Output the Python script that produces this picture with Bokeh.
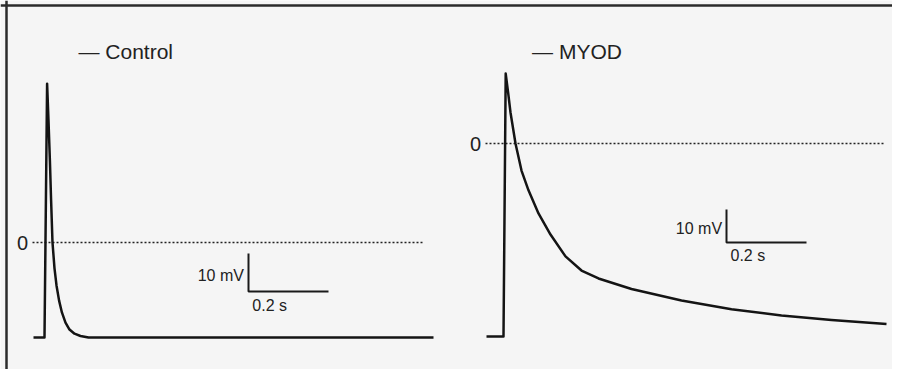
from bokeh.plotting import figure
from bokeh.models import Range1d, Span
from bokeh.core.properties import value
from bokeh.embed import file_html
from bokeh.resources import INLINE

# ---- data ----
panel_labels = ["Control", "MYOD"]

control_t = [0.0, 0.0275, 0.034, 0.0375, 0.041, 0.044, 0.0475, 0.0525, 0.0575,
             0.064, 0.071, 0.08, 0.09, 0.1025, 0.1175, 0.1375, 0.4, 0.7, 1.0]
control_v = [-25.0, -25.0, 41.8, 32.1, 21.6, 11.1, 0.0, -6.8, -11.3,
             -15.3, -18.4, -21.1, -22.9, -24.0, -24.6, -25.0, -25.0, -25.0, -25.0]

myod_t = [0.0, 0.0425, 0.048, 0.054, 0.06, 0.0725, 0.0875, 0.105, 0.13, 0.16,
          0.1975, 0.2375, 0.28, 0.3625, 0.4875, 0.6125, 0.7375, 0.8625, 1.0]
myod_v = [-58.5, -58.5, 21.2, 15.5, 9.4, 0.0, -8.2, -14.2, -21.2, -27.6,
          -34.2, -38.5, -40.9, -44.1, -47.6, -50.2, -52.1, -53.5, -54.7]

zero_mv = 0
scale_mv = 10      # vertical scale bar, mV
scale_s = 0.2      # horizontal scale bar, s

# ---- layout ----
W, H = 892, 369
BG = "#f5f5f5"
INK = "#141414"
FONT = value("Liberation Sans")

p = figure(width=W, height=H, output_backend="svg", toolbar_location=None,
           x_axis_location=None, y_axis_location=None,
           x_range=Range1d(0, W), y_range=Range1d(0, H),
           min_border=0, background_fill_color=BG, border_fill_color=BG,
           outline_line_color=None)
p.grid.visible = False

p.extra_x_ranges = {
    "lt": Range1d(-33 / 400.0, -33 / 400.0 + W / 400.0),
    "rt": Range1d(-486 / 400.0, -486 / 400.0 + W / 400.0),
}
p.extra_y_ranges = {
    "lv": Range1d(242 / 3.8 - H / 3.8, 242 / 3.8),
    "rv": Range1d(143 / 3.3 - H / 3.3, 143 / 3.3),
}

# outer frame (left & top dark edges)
p.add_layout(Span(location=6, dimension="height", line_color="#2b2b2b", line_width=2.5))
p.add_layout(Span(location=H - 5, dimension="width", line_color="#2b2b2b", line_width=2.5))

panels = [
    dict(t=control_t, v=control_v, xr="lt", yr="lv", label=panel_labels[0],
         zero_end=0.975, lab_pos=(0.1125, 50.3), bar=(0.5375, -12.9),
         mv_lab=(0.526, -8.7), s_lab=(0.547, -16.5)),
    dict(t=myod_t, v=myod_v, xr="rt", yr="rv", label=panel_labels[1],
         zero_end=0.9925, lab_pos=(0.114, 27.9), bar=(0.6, -30.0),
         mv_lab=(0.589, -25.8), s_lab=(0.61, -33.9)),
]

for pn in panels:
    kw = dict(x_range_name=pn["xr"], y_range_name=pn["yr"])
    # zero reference line
    p.line([pn["t"][0] - 0.0025, pn["zero_end"]], [zero_mv, zero_mv],
           line_color="#222222", line_width=1.5, line_dash="2 2", **kw)
    p.text([-0.0135], [zero_mv], text=["0"], text_align="right", text_baseline="middle",
           text_font=FONT, text_font_size="20px", text_color="#222222", **kw)
    # trace
    p.line(pn["t"], pn["v"], line_color=INK, line_width=2.5, line_join="round", **kw)
    # label
    p.text([pn["lab_pos"][0]], [pn["lab_pos"][1]], text=["\u2014 " + pn["label"]],
           text_align="left", text_baseline="middle", text_font=FONT,
           text_font_size="21px", text_color="#222222", **kw)
    # scale bars
    bx, by = pn["bar"]
    p.line([bx, bx, bx + scale_s], [by + scale_mv, by, by],
           line_color="#1a1a1a", line_width=2, **kw)
    p.text([pn["mv_lab"][0]], [pn["mv_lab"][1]], text=[f"{scale_mv} mV"],
           text_align="right", text_baseline="middle", text_font=FONT,
           text_font_size="16px", text_color="#222222", **kw)
    p.text([pn["s_lab"][0]], [pn["s_lab"][1]], text=[f"{scale_s} s"],
           text_align="left", text_baseline="middle", text_font=FONT,
           text_font_size="16px", text_color="#222222", **kw)

open("out.html", "w").write(file_html(p, INLINE))
